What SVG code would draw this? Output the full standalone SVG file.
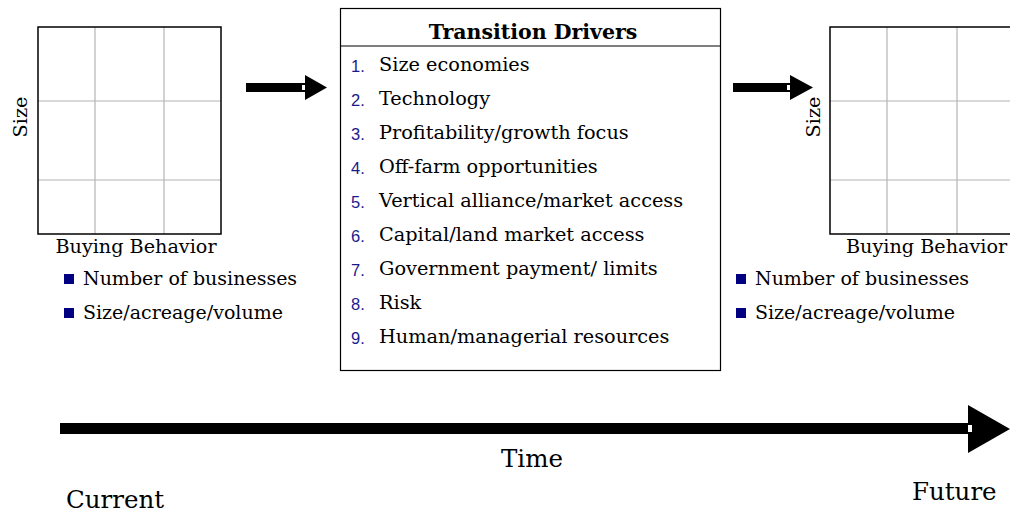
<svg xmlns="http://www.w3.org/2000/svg" width="1010" height="513" viewBox="0 0 1010 513">
<style>
.t{font-family:"DejaVu Serif","Liberation Serif",serif;fill:#000}
.ax{font-size:19.2px}
.bl{font-size:19px}
.it{font-size:19.3px}
.big{font-size:24.5px}
.num{font-family:"Liberation Sans",Arial,sans-serif;font-size:16.5px;fill:#1a1a8c}
.grid{stroke:#b4b4b4;stroke-width:1.2;fill:none}
.frame{stroke:#000;stroke-width:1.5;fill:none}
.sq{fill:#000080}
</style>
<rect width="1010" height="513" fill="#fff"/>
<g id="current-grid">
<line class="grid" x1="95" y1="27" x2="95" y2="234"/>
<line class="grid" x1="164" y1="27" x2="164" y2="234"/>
<line class="grid" x1="38" y1="101" x2="221" y2="101"/>
<line class="grid" x1="38" y1="180" x2="221" y2="180"/>
<rect class="frame" x="38" y="27" width="183" height="207"/>
<text class="t ax" transform="translate(27,117) rotate(-90)" text-anchor="middle">Size</text>
<text class="t ax" x="136" y="253" text-anchor="middle">Buying Behavior</text>
<rect class="sq" x="64" y="274" width="10" height="10"/>
<text class="t bl" x="83" y="285">Number of businesses</text>
<rect class="sq" x="64" y="308" width="10" height="10"/>
<text class="t bl" x="83" y="319">Size/acreage/volume</text>
</g>
<g id="future-grid">
<line class="grid" x1="887" y1="27" x2="887" y2="234"/>
<line class="grid" x1="957" y1="27" x2="957" y2="234"/>
<line class="grid" x1="830" y1="101" x2="1013" y2="101"/>
<line class="grid" x1="830" y1="180" x2="1013" y2="180"/>
<rect class="frame" x="830" y="27" width="183" height="207"/>
<text class="t ax" transform="translate(820,117) rotate(-90)" text-anchor="middle">Size</text>
<text class="t ax" x="846" y="253">Buying Behavior</text>
<rect class="sq" x="736" y="274" width="10" height="10"/>
<text class="t bl" x="755" y="285">Number of businesses</text>
<rect class="sq" x="736" y="308" width="10" height="10"/>
<text class="t bl" x="755" y="319">Size/acreage/volume</text>
</g>
<g id="drivers">
<rect x="340.5" y="8.5" width="380" height="362" fill="#fff" stroke="#000" stroke-width="1.2"/>
<line x1="340.5" y1="46" x2="720.5" y2="46" stroke="#000" stroke-width="1.2"/>
<text class="t" x="533" y="39" text-anchor="middle" font-weight="bold" font-size="20.5">Transition Drivers</text>
<text class="num" x="351" y="72">1.</text><text class="t it" x="379" y="71">Size economies</text>
<text class="num" x="351" y="106">2.</text><text class="t it" x="379" y="105">Technology</text>
<text class="num" x="351" y="140">3.</text><text class="t it" x="379" y="139">Profitability/growth focus</text>
<text class="num" x="351" y="174">4.</text><text class="t it" x="379" y="173">Off-farm opportunities</text>
<text class="num" x="351" y="208">5.</text><text class="t it" x="379" y="207">Vertical alliance/market access</text>
<text class="num" x="351" y="242">6.</text><text class="t it" x="379" y="241">Capital/land market access</text>
<text class="num" x="351" y="276">7.</text><text class="t it" x="379" y="275">Government payment/ limits</text>
<text class="num" x="351" y="310">8.</text><text class="t it" x="379" y="309">Risk</text>
<text class="num" x="351" y="344">9.</text><text class="t it" x="379" y="343">Human/managerial resources</text>
</g>
<g id="connectors">
<polygon points="246,83 305,83 305,75 327,87.5 305,100 305,92 246,92" fill="#000"/>
<rect x="302" y="85" width="3" height="5" fill="#fff"/>
<polygon points="733,83 790,83 790,75 813,87.5 790,100 790,92 733,92" fill="#000"/>
<rect x="787" y="85" width="3" height="5" fill="#fff"/>
<polygon points="60,423 968,423 968,405 1010,429 968,453 968,434 60,434" fill="#000"/>
<rect x="968" y="425" width="4" height="7" fill="#fff"/>
</g>
<g id="time-labels">
<text class="t big" x="532" y="467" text-anchor="middle">Time</text>
<text class="t big" x="66" y="508">Current</text>
<text class="t big" x="912" y="500">Future</text>
</g>
</svg>
